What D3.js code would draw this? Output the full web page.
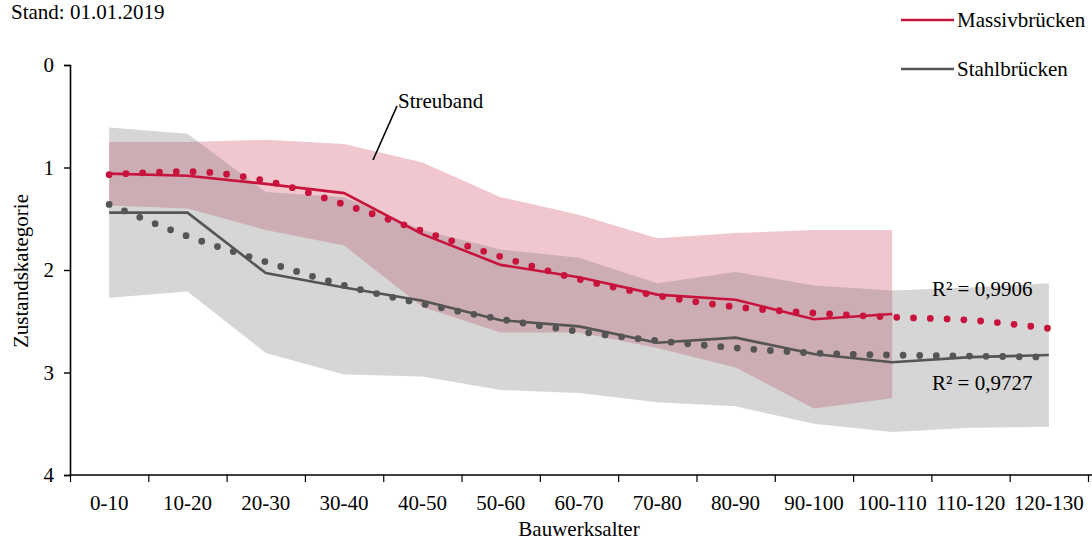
<!DOCTYPE html>
<html>
<head>
<meta charset="utf-8">
<script src="https://cdn.jsdelivr.net/npm/d3@7"></script>
<style>
  html, body { margin: 0; padding: 0; background: #fff; }
  svg { display: block; font-family: "Liberation Serif", "Times New Roman", serif; }
</style>
</head>
<body>
<svg id="chart" width="1092" height="542"></svg>
<script>
const categories = ["0-10","10-20","20-30","30-40","40-50","50-60","60-70","70-80","80-90","90-100","100-110","110-120","120-130"];
const yTicks = [0, 1, 2, 3, 4];

// Mittelwerte
const massivLine = [1.06, 1.08, 1.16, 1.25, 1.65, 1.95, 2.07, 2.24, 2.29, 2.48, 2.43];
const stahlLine  = [1.44, 1.44, 2.03, 2.17, 2.30, 2.49, 2.55, 2.71, 2.66, 2.82, 2.90, 2.85, 2.83];

// Trendlinien (polynomisch)
const massivTrend = [1.07, 1.04, 1.13, 1.36, 1.62, 1.87, 2.09, 2.25, 2.36, 2.42, 2.46, 2.49, 2.57];
const stahlTrend  = [1.36, 1.67, 1.92, 2.15, 2.33, 2.48, 2.60, 2.69, 2.76, 2.81, 2.83, 2.84, 2.85];

// Streubänder
const massivBandUpper = [0.75, 0.75, 0.73, 0.77, 0.95, 1.29, 1.46, 1.69, 1.64, 1.61, 1.61];
const massivBandLower = [1.37, 1.40, 1.61, 1.76, 2.36, 2.61, 2.61, 2.76, 2.95, 3.35, 3.25];
const stahlBandUpper  = [0.61, 0.67, 1.24, 1.29, 1.61, 1.80, 1.88, 2.13, 2.02, 2.15, 2.20, 2.17, 2.13];
const stahlBandLower  = [2.27, 2.21, 2.81, 3.02, 3.04, 3.17, 3.20, 3.29, 3.33, 3.50, 3.58, 3.54, 3.53];

const seriesNames = ["Massivbrücken", "Stahlbrücken"];
const r2Labels = ["R² = 0,9906", "R² = 0,9727"];

const RED = "#C8143C";
const GREY = "#555555";
const FONT = 21;

const svg = d3.select("#chart");

const x = d3.scaleBand().domain(categories).range([70, 1088]).padding(0);
const cx = i => x(categories[i]) + x.bandwidth() / 2;
const y = d3.scaleLinear().domain([0, 4]).range([65, 475]);

// Bands
const bandArea = (upper, lower) => d3.area()
  .x((d, i) => cx(i))
  .y0((d, i) => y(lower[i]))
  .y1((d, i) => y(upper[i]));

svg.append("path")
  .datum(massivBandUpper)
  .attr("d", bandArea(massivBandUpper, massivBandLower))
  .attr("fill", "#F0C7CF");

svg.append("path")
  .datum(stahlBandUpper)
  .attr("d", bandArea(stahlBandUpper, stahlBandLower))
  .attr("fill", "#686868")
  .attr("fill-opacity", 0.27);

// Lines
const line = d3.line().x((d, i) => cx(i)).y(d => y(d));

svg.append("path").datum(stahlLine).attr("d", line)
  .attr("fill", "none").attr("stroke", GREY).attr("stroke-width", 2.6);
svg.append("path").datum(massivLine).attr("d", line)
  .attr("fill", "none").attr("stroke", RED).attr("stroke-width", 2.6);

// Trend lines (dotted)
const trend = d3.line().x((d, i) => cx(i)).y(d => y(d)).curve(d3.curveMonotoneX);
svg.append("path").datum(stahlTrend).attr("d", trend)
  .attr("fill", "none").attr("stroke", GREY).attr("stroke-width", 6.8)
  .attr("stroke-linecap", "round").attr("stroke-dasharray", "0,16.6");
svg.append("path").datum(massivTrend).attr("d", trend)
  .attr("fill", "none").attr("stroke", RED).attr("stroke-width", 6.8)
  .attr("stroke-linecap", "round").attr("stroke-dasharray", "0,16.8");

// Y axis
const yAxis = svg.append("g")
  .attr("transform", "translate(70,0)")
  .call(d3.axisLeft(y).tickValues(yTicks).tickSize(6).tickPadding(10).tickFormat(d3.format("d")));
yAxis.select(".domain").attr("stroke", "#000").attr("stroke-width", 1.6);
yAxis.selectAll(".tick line").attr("stroke", "#000").attr("stroke-width", 1.4);
yAxis.selectAll("text").attr("font-size", FONT).attr("font-family", "Liberation Serif").attr("fill", "#000");

// X axis: boundary ticks
const xb = d3.scaleLinear().domain([0, categories.length]).range([70, 1088]);
const xAxisTicks = svg.append("g")
  .attr("transform", "translate(0,475)")
  .call(d3.axisBottom(xb).tickValues(d3.range(categories.length + 1)).tickSize(7).tickFormat(""));
xAxisTicks.select(".domain").attr("stroke", "#000").attr("stroke-width", 1.6)
  .attr("d", "M70,0H1092");
xAxisTicks.selectAll(".tick line").attr("stroke", "#000").attr("stroke-width", 1.2);

// X axis labels
const xAxisLabels = svg.append("g")
  .attr("transform", "translate(0,475)")
  .call(d3.axisBottom(x).tickSize(0).tickPadding(20));
xAxisLabels.select(".domain").remove();
xAxisLabels.selectAll("text").attr("font-size", FONT).attr("font-family", "Liberation Serif").attr("fill", "#000");

// Axis titles
svg.append("text")
  .attr("x", 579).attr("y", 536)
  .attr("text-anchor", "middle")
  .attr("font-size", FONT)
  .text("Bauwerksalter");

svg.append("text")
  .attr("transform", "translate(28,271) rotate(-90)")
  .attr("text-anchor", "middle")
  .attr("font-size", FONT)
  .text("Zustandskategorie");

// Stand
svg.append("text")
  .attr("x", 11).attr("y", 19)
  .attr("font-size", FONT)
  .text("Stand: 01.01.2019");

// Legend
const legend = svg.append("g");
[RED, GREY].forEach((c, i) => {
  const ly = 20 + i * 49;
  legend.append("line").attr("x1", 901).attr("x2", 954).attr("y1", ly).attr("y2", ly)
    .attr("stroke", c).attr("stroke-width", 2.6);
  legend.append("text").attr("x", 957).attr("y", ly + 7)
    .attr("font-size", FONT).text(seriesNames[i]);
});

// Streuband annotation
svg.append("line")
  .attr("x1", 397).attr("y1", 106).attr("x2", 373).attr("y2", 160)
  .attr("stroke", "#000").attr("stroke-width", 1.6);
svg.append("text")
  .attr("x", 398).attr("y", 108)
  .attr("font-size", FONT)
  .text("Streuband");

// R² labels
svg.append("text").attr("x", 932).attr("y", 296).attr("font-size", FONT).text(r2Labels[0]);
svg.append("text").attr("x", 932).attr("y", 390).attr("font-size", FONT).text(r2Labels[1]);
</script>
</body>
</html>
